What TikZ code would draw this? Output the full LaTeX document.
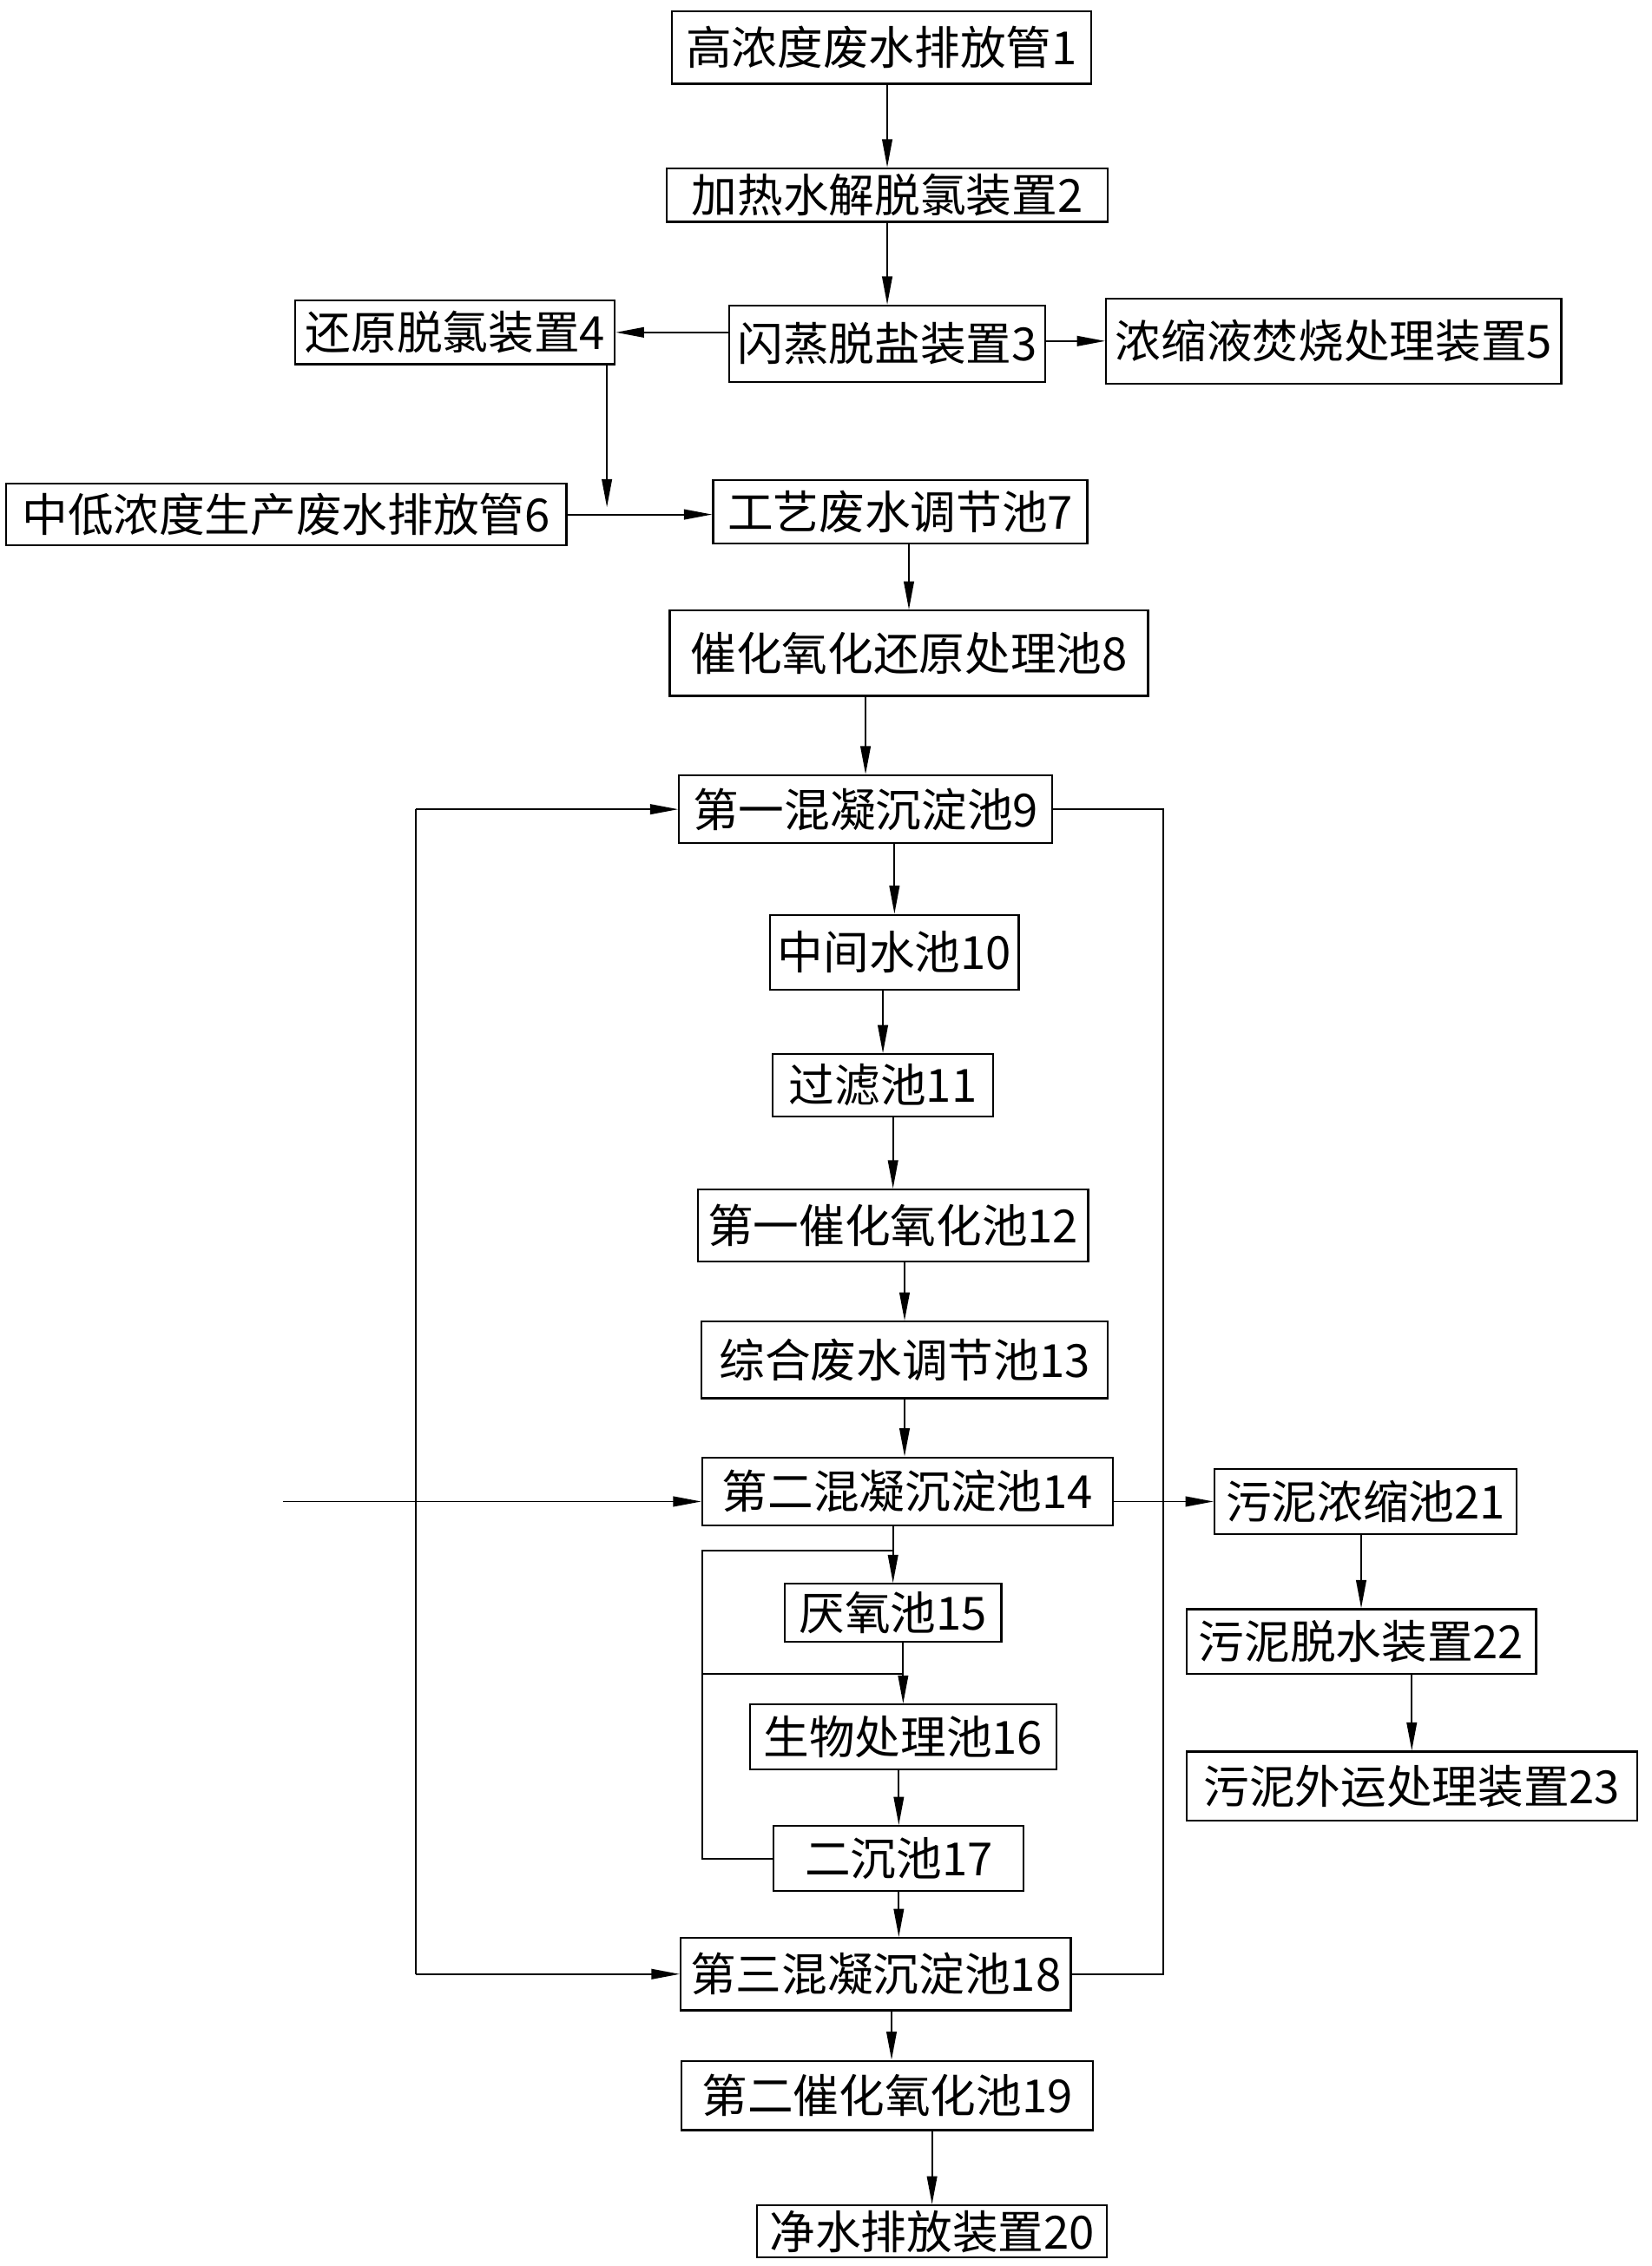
\documentclass[tikz,border=0pt]{standalone}
\usepackage{fontspec}
\newfontfamily\cjk{Noto Sans CJK SC}
\usetikzlibrary{arrows.meta}

\begin{document}
\begin{tikzpicture}[->, >={Triangle[length=3.9mm,width=1.4mm]}, x=0.2mm, y=-0.2mm, line width=0.65pt,
  pool/.style={draw, line width=0.75pt, inner sep=1pt, font=\cjk\fontsize{18}{20}\selectfont}]
\useasboundingbox (0,0) rectangle (1143,1568);

\node[pool, minimum width=58mm, minimum height=10mm] (n1) at (610,33) {高浓度废水排放管1};
\node[pool, minimum width=61mm, minimum height=7.4mm] (n2) at (614,135) {加热水解脱氯装置2};
\node[pool, minimum width=43.8mm, minimum height=10.6mm] (n3) at (614,238) {闪蒸脱盐装置3};
\node[pool, minimum width=44.2mm, minimum height=8.8mm] (n4) at (315,230) {还原脱氯装置4};
\node[pool, minimum width=63mm, minimum height=11.8mm] (n5) at (923,236) {浓缩液焚烧处理装置5};
\node[pool, minimum width=77.6mm, minimum height=8.6mm] (n6) at (198,356) {中低浓度生产废水排放管6};
\node[pool, minimum width=51.8mm, minimum height=8.8mm] (n7) at (623,354) {工艺废水调节池7};
\node[pool, minimum width=66.2mm, minimum height=11.8mm] (n8) at (629,452) {催化氧化还原处理池8};
\node[pool, minimum width=51.6mm, minimum height=9.4mm] (n9) at (599,560) {第一混凝沉淀池9};
\node[pool, minimum width=34.4mm, minimum height=10.4mm] (n10) at (619,659) {中间水池10};
\node[pool, minimum width=30.6mm, minimum height=8.6mm] (n11) at (611,751) {过滤池11};
\node[pool, minimum width=54mm, minimum height=10mm] (n12) at (618,848) {第一催化氧化池12};
\node[pool, minimum width=56.2mm, minimum height=10.6mm] (n13) at (626,941) {综合废水调节池13};
\node[pool, minimum width=56.8mm, minimum height=9.4mm] (n14) at (628,1032) {第二混凝沉淀池14};
\node[pool, minimum width=30mm, minimum height=8mm] (n15) at (618,1116) {厌氧池15};
\node[pool, minimum width=42.4mm, minimum height=9mm] (n16) at (625,1202) {生物处理池16};
\node[pool, minimum width=34.6mm, minimum height=9mm] (n17) at (622,1286) {二沉池17};
\node[pool, minimum width=54mm, minimum height=10mm] (n18) at (606,1366) {第三混凝沉淀池18};
\node[pool, minimum width=57mm, minimum height=9.6mm] (n19) at (614,1450) {第二催化氧化池19};
\node[pool, minimum width=48.4mm, minimum height=7.2mm] (n20) at (645,1544) {净水排放装置20};
\node[pool, minimum width=41.8mm, minimum height=9mm] (n21) at (945,1039) {污泥浓缩池21};
\node[pool, minimum width=48.4mm, minimum height=9mm] (n22) at (942,1136) {污泥脱水装置22};
\node[pool, minimum width=62.4mm, minimum height=9.6mm] (n23) at (977,1236) {污泥外运处理装置23};

\coordinate (merge) at (420,351);
\coordinate (in14) at (196,1039);
\coordinate (byL) at (288,0);
\coordinate (byR) at (805,0);
\coordinate (rTop) at (486,1073);
\coordinate (rMid) at (486,1158);

\path
(n1.south -| n2) edge (n2)
(n2) edge (n3)
(n3.west |- n4) edge (n4)
(n3.east |- n5) edge (n5)
(n4.south -| merge) edge (merge)
(n6) edge (n6 -| n7.west)
(n7.south -| n8) edge (n8)
(n8.south -| n9) edge (n9)
(n9.south -| n10) edge (n10)
(n10.south -| n11) edge (n11)
(n11.south -| n12) edge (n12)
(n12.south -| n13) edge (n13)
(n13) edge (n13 |- n14.north)
(in14) edge (in14 -| n14.west)
(n14.east |- in14) edge (in14 -| n21.west)
(n14.south -| n15) edge (n15)
(n15.south -| n16) edge (n16)
(n16.south -| n17) edge (n17)
(n17) edge (n17 |- n18.north)
(byL |- n9) edge (n9)
(byL |- n18) edge (n18)
([xshift=2.2mm]n18.south) edge ([xshift=2.2mm]n18.south |- n19.north)
(n19.south -| n20) edge (n20)
(n21.south -| n22) edge (n22)
(n22.south -| n23) edge (n23);

% return lines, no arrows
\draw[-] (byL |- n9) -- (byL |- n18);
\draw[-] (n9.east) -- (n9 -| byR) -- (n18 -| byR) -- (n18.east);
\draw[-] (n15 |- rTop) -- (rTop) -- (rTop |- n17) -- (n17.west);
\draw[-] (rMid) -- (rMid -| n16);

\end{tikzpicture}
\end{document}
